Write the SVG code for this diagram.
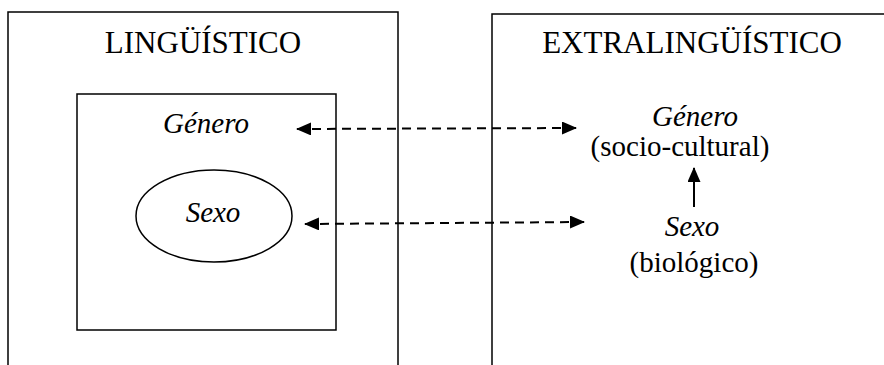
<svg xmlns="http://www.w3.org/2000/svg" width="884" height="365" viewBox="0 0 884 365">
<style>
.box{fill:none;stroke:#000;stroke-width:1.5}
.t{font-family:"Liberation Serif","Times New Roman",serif;fill:#000;text-anchor:middle}
.title{font-size:31px}
.body{font-size:29px}
.it{font-style:italic}
.dash{stroke:#000;stroke-width:2;stroke-dasharray:9 6;fill:none}
.solid{stroke:#000;stroke-width:2;fill:none}
</style>
<defs>
<marker id="ah" viewBox="0 0 15 13" refX="14" refY="6.5" markerWidth="15" markerHeight="13" markerUnits="userSpaceOnUse" orient="auto-start-reverse">
<path d="M0,0 L15,6.5 L0,13 Z" fill="#000"/>
</marker>
</defs>
<rect width="884" height="365" fill="#fff"/>
<g id="linguistico">
<rect class="box" x="8" y="12" width="390" height="370"/>
<text class="t title" x="203" y="53">LINGÜÍSTICO</text>
</g>
<g id="extralinguistico">
<rect class="box" x="492" y="14" width="410" height="370"/>
<text class="t title" x="692" y="53">EXTRALINGÜÍSTICO</text>
</g>
<g id="inner">
<rect class="box" x="77" y="94" width="259" height="236"/>
<text class="t body it" x="206" y="133">Género</text>
</g>
<g id="sexo-ling">
<ellipse cx="214" cy="216" rx="78" ry="46" fill="none" stroke="#000" stroke-width="1.5"/>
<text class="t body it" x="213" y="222">Sexo</text>
</g>
<g id="genero-extra">
<text class="t body it" x="695" y="126">Género</text>
<text class="t body" x="680" y="156">(socio-cultural)</text>
</g>
<g id="sexo-extra">
<text class="t body it" x="692" y="236">Sexo</text>
<text class="t body" x="694" y="272">(biológico)</text>
</g>
<g id="connectors">
<line class="dash" x1="297" y1="129" x2="576" y2="128" marker-start="url(#ah)" marker-end="url(#ah)"/>
<line class="dash" x1="305" y1="224" x2="584" y2="222" marker-start="url(#ah)" marker-end="url(#ah)"/>
<line class="solid" x1="694" y1="207" x2="694" y2="168" marker-end="url(#ah)"/>
</g>
</svg>
